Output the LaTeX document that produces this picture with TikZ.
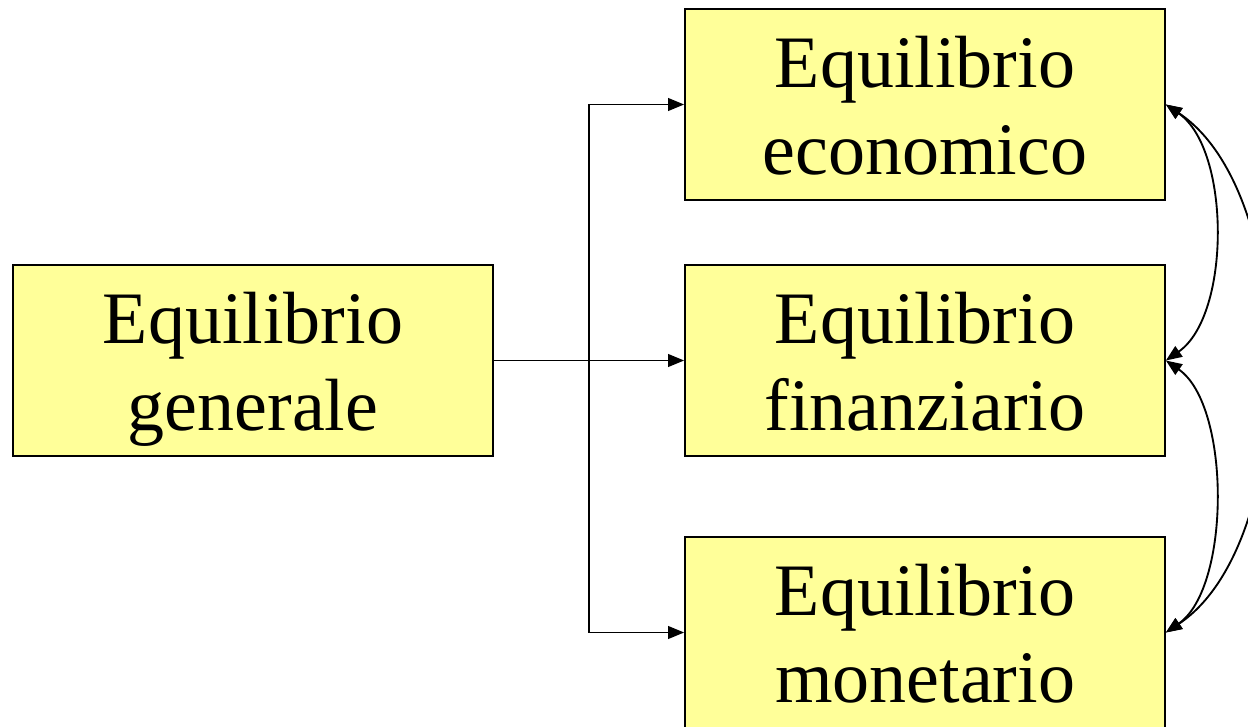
\documentclass[tikz,border=0pt]{standalone}
\usepackage{fontspec}
\setmainfont{Liberation Serif}
\usetikzlibrary{arrows.meta}
\newcommand\topstrut{\rule{0pt}{52.5pt}}
\newcommand\botstrut{\rule[-12.5pt]{0pt}{12.5pt}}
\begin{document}
\begin{tikzpicture}[x=0.75pt,y=-0.75pt,
  box/.style={draw=black,line width=1.3pt,fill=boxyellow,minimum width=360pt,minimum height=143pt,inner sep=0pt,align=center,font=\fontsize{55.5}{65}\selectfont},
  conn/.style={line width=1.4pt,-{Triangle[length=12pt,width=9.5pt]}},
  dconn/.style={line width=1.4pt,{Triangle[length=12pt,width=9.5pt]}-{Triangle[length=12pt,width=9.5pt]}}]
\definecolor{boxyellow}{RGB}{255,255,153}
\useasboundingbox (0,0) rectangle (1248,727);
\clip (0,0) rectangle (1248,727);
\node[box] (gen) at (253,360.5) {\topstrut Equilibrio\\generale\botstrut};
\node[box] (eco) at (925,104.5) {\topstrut Equilibrio\\economico\botstrut};
\node[box] (fin) at (925,360.5) {\topstrut Equilibrio\\finanziario\botstrut};
\node[box] (mon) at (925,632.5) {\topstrut Equilibrio\\monetario\botstrut};
\coordinate (j) at (589,360.5);
\draw[conn] (gen.east) -- (fin.west);
\draw[conn] (j) |- (eco.west);
\draw[conn] (j) |- (mon.west);
\draw[dconn] (eco.east) .. controls +(65,45) and +(65,-45) .. (fin.east);
\draw[dconn] (fin.east) .. controls +(65,45) and +(65,-45) .. (mon.east);
\draw[dconn] (eco.east) .. controls +(135,90) and +(135,-90) .. (mon.east);
\end{tikzpicture}
\end{document}
